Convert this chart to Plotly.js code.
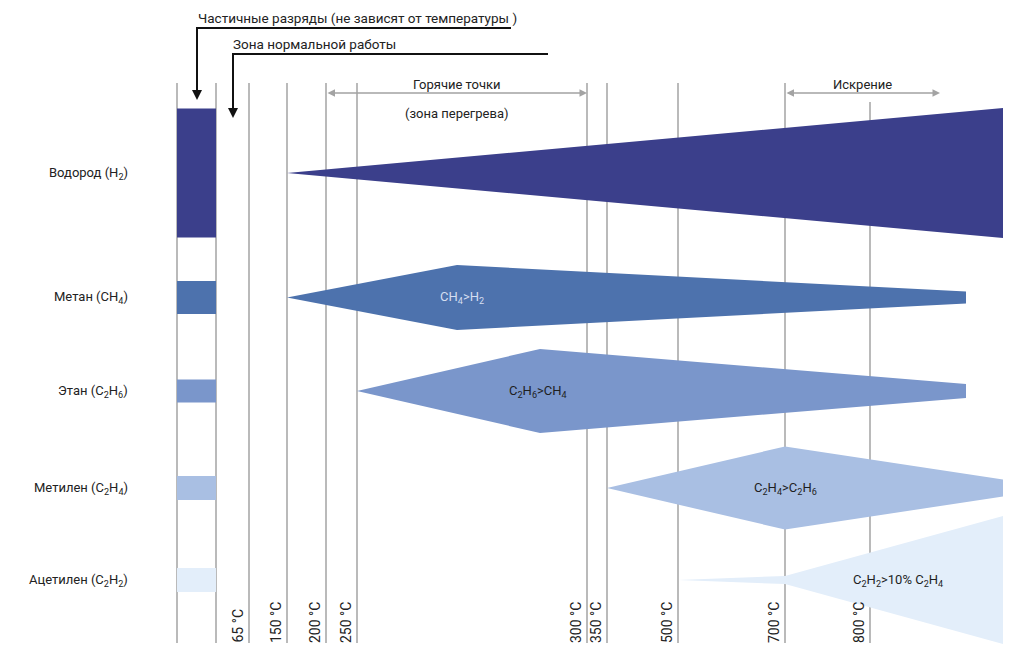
<!DOCTYPE html>
<html>
<head>
<meta charset="utf-8">
<script src="https://cdn.plot.ly/plotly-3.0.1.min.js"></script>
<style>html,body{margin:0;padding:0;background:#fff;}#chart{width:1024px;height:659px;}</style>
</head>
<body>
<div id="chart"></div>
<script>
// Temperature scale (diagram positions of each temperature mark)
const tempLabels = ['65 °C','150 °C','200 °C','250 °C','300 °C','350 °C','500 °C','700 °C','800 °C'];
const tempPos = [249, 287, 326, 357, 587, 607, 678, 785, 870];
const tempLineTop = [83, 83, 83, 83, 83, 83, 83, 83, 102];

// Gases
const gases = ['Водород (H<sub>2</sub>)', 'Метан (CH<sub>4</sub>)', 'Этан (C<sub>2</sub>H<sub>6</sub>)', 'Метилен (C<sub>2</sub>H<sub>4</sub>)', 'Ацетилен (C<sub>2</sub>H<sub>2</sub>)'];
const gasColors = ['#3b3f8b', '#4d72ad', '#7a96cb', '#a9bfe3', '#e3eefa'];
const rowCenter = [173, 297.5, 391, 488, 580];
const swatchHalf = [64.5, 16.5, 11.5, 12, 12];

// Gas generation profile: start, peak and end positions with half-widths
const startPos = [287, 287, 357, 607, 678];
const peakPos = [287, 457, 540, 785, 785];
const endPos = [1003, 966, 966, 1003, 1003];
const peakHalf = [0, 32.5, 42, 41.5, 4];
const endHalf = [65, 6, 7, 8.5, 64];

// Ratio labels
const ratioText = ['', 'CH<sub>4</sub>>H<sub>2</sub>', 'C<sub>2</sub>H<sub>6</sub>>CH<sub>4</sub>', 'C<sub>2</sub>H<sub>4</sub>>C<sub>2</sub>H<sub>6</sub>', 'C<sub>2</sub>H<sub>2</sub>>10% C<sub>2</sub>H<sub>4</sub>'];
const ratioX = [0, 462, 538, 785, 898];
const ratioColor = ['#fff', '#d5def0', '#1e1e1e', '#1e1e1e', '#1e1e1e'];

// Zones
const hotStart = 326, hotEnd = 587;
const sparkStart = 785, sparkEnd = 940;

const FONT = 'Roboto, "Liberation Sans", sans-serif';
const SW_L = 177, SW_R = 216, LINE_BOT = 643;

const traces = [];
gases.forEach((g, i) => {
  const c = rowCenter[i];
  traces.push({
    type: 'scatter', mode: 'lines', fill: 'toself', fillcolor: gasColors[i],
    line: {width: 0, color: gasColors[i]}, hoverinfo: 'skip', showlegend: false,
    x: [startPos[i], peakPos[i], endPos[i], endPos[i], peakPos[i], startPos[i]],
    y: [c, c - peakHalf[i], c - endHalf[i], c + endHalf[i], c + peakHalf[i], c]
  });
  traces.push({
    type: 'scatter', mode: 'lines', fill: 'toself', fillcolor: gasColors[i],
    line: {width: 0, color: gasColors[i]}, hoverinfo: 'skip', showlegend: false,
    x: [SW_L, SW_R, SW_R, SW_L, SW_L],
    y: [c - swatchHalf[i], c - swatchHalf[i], c + swatchHalf[i], c + swatchHalf[i], c - swatchHalf[i]]
  });
});

const shapes = [];
const gray = '#a3a3a3';
[SW_L, SW_R].forEach(x => shapes.push({type: 'line', layer: 'below', x0: x, x1: x, y0: 83, y1: LINE_BOT, line: {color: gray, width: 1.5}}));
tempPos.forEach((x, i) => shapes.push({type: 'line', layer: 'below', x0: x, x1: x, y0: tempLineTop[i], y1: LINE_BOT, line: {color: gray, width: 1.5}}));
// black leader lines
shapes.push({type: 'path', path: 'M 511 28 L 197 28 L 197 88', line: {color: '#111', width: 2}});
shapes.push({type: 'path', path: 'M 548 54 L 233 54 L 233 106', line: {color: '#111', width: 2}});

const annotations = [];
gases.forEach((g, i) => annotations.push({x: 130, y: rowCenter[i], xanchor: 'right', yanchor: 'middle', text: g, showarrow: false, font: {family: FONT, size: 13, color: '#222'}}));
ratioText.forEach((t, i) => { if (t) annotations.push({x: ratioX[i], y: rowCenter[i], text: t, showarrow: false, xanchor: 'center', yanchor: 'middle', font: {family: FONT, size: 13, color: ratioColor[i]}}); });
tempLabels.forEach((t, i) => annotations.push({x: tempPos[i] - 1.5, y: LINE_BOT + 2, xanchor: 'right', yanchor: 'bottom', textangle: -90, text: t, showarrow: false, font: {family: FONT, size: 14, color: '#222'}}));
// arrows down
annotations.push({x: 197, y: 100, ax: 197, ay: 80, axref: 'x', ayref: 'y', xref: 'x', yref: 'y', text: '', showarrow: true, arrowhead: 2, arrowsize: 1, arrowwidth: 2, arrowcolor: '#111'});
annotations.push({x: 233, y: 118, ax: 233, ay: 98, axref: 'x', ayref: 'y', xref: 'x', yref: 'y', text: '', showarrow: true, arrowhead: 2, arrowsize: 1, arrowwidth: 2, arrowcolor: '#111'});
annotations.push({x: 196, y: 18, xanchor: 'left', yanchor: 'middle', text: 'Частичные разряды (не зависят от температуры )', showarrow: false, font: {family: FONT, size: 13.5, color: '#222'}});
annotations.push({x: 231, y: 44, xanchor: 'left', yanchor: 'middle', text: 'Зона нормальной работы', showarrow: false, font: {family: FONT, size: 13.5, color: '#222'}});
// zone arrows
annotations.push({x: hotEnd, y: 93, ax: hotStart, ay: 93, axref: 'x', ayref: 'y', text: '', showarrow: true, arrowhead: 2, startarrowhead: 2, arrowside: 'end+start', arrowsize: 1, arrowwidth: 1.5, arrowcolor: gray});
annotations.push({x: sparkEnd, y: 93, ax: sparkStart, ay: 93, axref: 'x', ayref: 'y', text: '', showarrow: true, arrowhead: 2, startarrowhead: 2, arrowside: 'end+start', arrowsize: 1, arrowwidth: 1.5, arrowcolor: gray});
annotations.push({x: (hotStart + hotEnd) / 2, y: 84, text: 'Горячие точки', showarrow: false, yanchor: 'middle', font: {family: FONT, size: 13, color: '#222'}});
annotations.push({x: (hotStart + hotEnd) / 2, y: 113, text: '(зона перегрева)', showarrow: false, yanchor: 'middle', font: {family: FONT, size: 13, color: '#222'}});
annotations.push({x: 862, y: 84, text: 'Искрение', showarrow: false, yanchor: 'middle', font: {family: FONT, size: 13, color: '#222'}});

const layout = {
  width: 1024, height: 659,
  margin: {l: 0, r: 0, t: 0, b: 0},
  paper_bgcolor: '#fff', plot_bgcolor: '#fff',
  xaxis: {range: [0, 1024], visible: false, fixedrange: true},
  yaxis: {range: [659, 0], visible: false, fixedrange: true},
  shapes: shapes, annotations: annotations, showlegend: false
};
Plotly.newPlot('chart', traces, layout, {staticPlot: true, displayModeBar: false});
</script>
</body>
</html>
